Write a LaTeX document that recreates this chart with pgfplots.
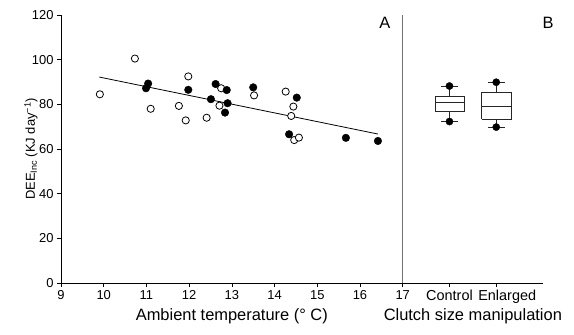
\documentclass[border=0pt]{standalone}
\usepackage{pgfplots}
\pgfplotsset{compat=1.18}
\usepackage{fontspec}
\setmainfont{Liberation Sans}
\begin{document}
\begin{tikzpicture}
\path[use as bounding box] (-61bp,-52bp) rectangle (513bp,283bp);
\pgfplotsset{
  common/.style={
    scale only axis, height=268bp, ymin=0, ymax=120,
    tick align=outside, major tick length=4bp,
    tick style={black, line width=0.7pt},
    axis line style={line width=0.7pt},
    every tick label/.append style={font=\fontsize{13}{15}\selectfont},
    /pgf/number format/assume math mode=true,
    every axis x label/.style={at={(rel axis cs:0.5,0)}, anchor=base, yshift=-37bp,
      font=\fontsize{16.5}{19}\selectfont},
    clip=false,
  },
  bx/.style={black!85, line width=0.9pt},
}
\begin{axis}[common,
  at={(0,0)}, anchor=south west,
  width=341.7bp, xmin=9, xmax=17,
  axis lines*=left,
  xtick={9,10,...,17}, ytick={0,20,...,120},
  xlabel={Ambient temperature (° C)},
  ylabel={DEE\textsubscript{Inc} (KJ day\textsuperscript{−1})},
  every axis y label/.style={at={(rel axis cs:-0.088,0.5)}, anchor=center, rotate=90,
    font=\fontsize{13}{15}\selectfont},
]
\addplot[black, line width=0.8pt] coordinates {(9.9,92.2) (16.42,66.7)};
\addplot[only marks, mark=*, mark size=3.6bp, mark options={fill=white, draw=black, line width=0.8pt}] coordinates {
(9.91,84.5) (10.73,100.5) (11.10,78.0) (11.76,79.3) (11.92,72.8) (11.98,92.5)
(12.41,74.0) (12.71,79.4) (12.75,87.2) (13.52,84.0) (14.26,85.7) (14.44,79.0)
(14.39,74.8) (14.46,64.0) (14.57,65.1)};
\addplot[only marks, mark=*, mark size=3.8bp, mark options={fill=black, draw=black}] coordinates {
(11.04,89.3) (10.99,87.2) (11.98,86.5) (12.51,82.3) (12.62,89.1) (12.88,86.4)
(12.90,80.5) (12.84,76.3) (13.50,87.6) (14.52,83.0) (14.34,66.6) (15.67,65.0)
(16.42,63.6)};
\node[font=\fontsize{16.5}{19}\selectfont] at (rel axis cs:0.948,0.972) {A};
\end{axis}
\begin{axis}[common,
  at={(341.7bp,0)}, anchor=south west,
  width=140.3bp, xmin=0, xmax=3,
  axis x line*=bottom, axis y line*=left,
  y axis line style={black!55, line width=1.2pt},
  ytick=\empty, xtick={1,2}, xticklabels={Control,{\hspace*{22bp}Enlarged}},
  xticklabel style={font=\fontsize{14.5}{16}\selectfont},
  xlabel={Clutch size manipulation},
]
% Control box
\addplot[bx] coordinates {(0.69,76.7) (1.31,76.7) (1.31,83.7) (0.69,83.7) (0.69,76.7)};
\addplot[bx] coordinates {(0.69,80.7) (1.31,80.7)};
\addplot[bx] coordinates {(1,83.7) (1,88.2)};
\addplot[bx] coordinates {(1,76.7) (1,72.3)};
\addplot[bx] coordinates {(0.82,88.2) (1.18,88.2)};
\addplot[bx] coordinates {(0.82,72.3) (1.18,72.3)};
% Enlarged box
\addplot[bx] coordinates {(1.685,73.3) (2.315,73.3) (2.315,85.4) (1.685,85.4) (1.685,73.3)};
\addplot[bx] coordinates {(1.685,79.0) (2.315,79.0)};
\addplot[bx] coordinates {(2,85.4) (2,89.9)};
\addplot[bx] coordinates {(2,73.3) (2,69.8)};
\addplot[bx] coordinates {(1.82,89.9) (2.18,89.9)};
\addplot[bx] coordinates {(1.82,69.8) (2.18,69.8)};
\addplot[only marks, mark=*, mark size=3.6bp, black] coordinates {(1,72.3) (1,88.2) (2,69.8) (2,89.9)};
\node[font=\fontsize{16.5}{19}\selectfont] at (rel axis cs:1.036,0.972) {B};
\end{axis}
\end{tikzpicture}
\end{document}
